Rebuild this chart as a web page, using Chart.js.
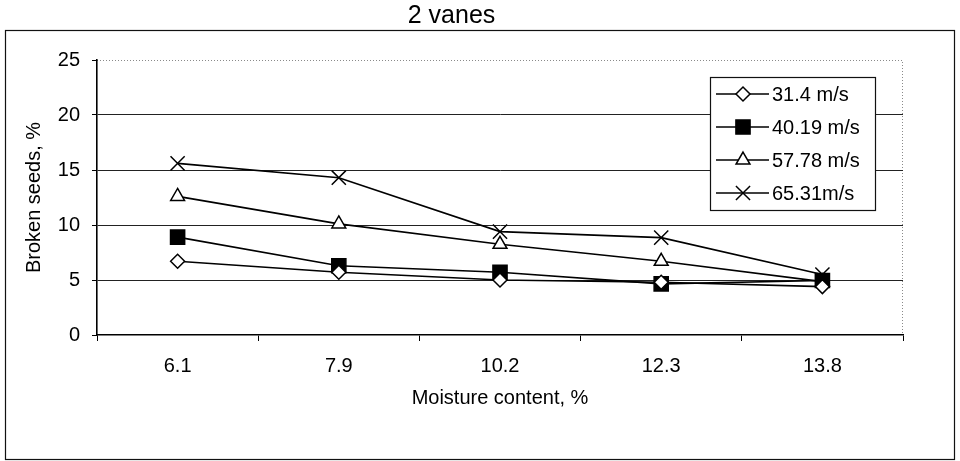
<!DOCTYPE html>
<html>
<head>
<meta charset="utf-8">
<title>2 vanes</title>
<script src="https://cdn.jsdelivr.net/npm/chart.js@4.4.1/dist/chart.umd.min.js"></script>
<style>
    html, body { margin: 0; padding: 0; background: #fff; }
    canvas { display: block; }
</style>
</head>
<body>
<canvas id="brokenChart" width="960" height="461"></canvas>
<script>
// data
const moisture = ['6.1', '7.9', '10.2', '12.3', '13.8'];
const speed31_4 = [6.7, 5.7, 5.0, 4.8, 4.4];
const speed40_19 = [8.9, 6.3, 5.7, 4.65, 4.95];
const speed57_78 = [12.6, 10.1, 8.25, 6.7, 4.85];
const speed65_31 = [15.6, 14.3, 9.4, 8.85, 5.5];
const yTicks = [0, 5, 10, 15, 20, 25];

const FONT = '"Liberation Sans", Arial, Helvetica, sans-serif';

// frame around the whole chart + dotted plot border (top / right)
const framePlugin = {
    id: 'frame',
    beforeDraw(chart) {
        const ctx = chart.ctx;
        const a = chart.chartArea;
        ctx.save();
        ctx.strokeStyle = '#111';
        ctx.lineWidth = 1.2;
        ctx.strokeRect(5.5, 30.5, 949, 429);
        ctx.strokeStyle = '#8a8a8a';
        ctx.lineWidth = 1;
        ctx.setLineDash([1, 2]);
        ctx.beginPath();
        ctx.moveTo(a.left, a.top + 0.5);
        ctx.lineTo(a.right - 0.5, a.top + 0.5);
        ctx.lineTo(a.right - 0.5, a.bottom);
        ctx.stroke();
        ctx.restore();
    }
};

// boxed legend sitting inside the plot, as in the original
const boxLegendPlugin = {
    id: 'boxLegend',
    afterDraw(chart) {
        const ctx = chart.ctx;
        const box = { left: 710, top: 77, right: 875, bottom: 210 };
        const rowY = [94, 127, 160, 193];
        ctx.save();
        ctx.fillStyle = '#fff';
        ctx.fillRect(box.left, box.top, box.right - box.left, box.bottom - box.top);
        ctx.strokeStyle = '#111';
        ctx.lineWidth = 1.2;
        ctx.strokeRect(box.left + 0.5, box.top + 0.5, box.right - box.left, box.bottom - box.top);

        chart.data.datasets.forEach((ds, i) => {
            const y = rowY[i];
            ctx.strokeStyle = '#000';
            ctx.lineWidth = 1.6;
            ctx.setLineDash([]);
            ctx.beginPath();
            ctx.moveTo(716, y);
            ctx.lineTo(769, y);
            ctx.stroke();

            ctx.fillStyle = ds.pointBackgroundColor;
            ctx.strokeStyle = '#000';
            ctx.lineWidth = ds.pointBorderWidth;
            Chart.helpers.drawPoint(ctx, {
                pointStyle: ds.pointStyle,
                radius: ds.pointRadius,
                rotation: 0,
                borderWidth: ds.pointBorderWidth
            }, 743, y);

            ctx.fillStyle = '#000';
            ctx.font = '20px ' + FONT;
            ctx.textAlign = 'left';
            ctx.textBaseline = 'middle';
            ctx.fillText(ds.label, 772, y + 1);
        });
        ctx.restore();
    }
};

function makeSeries(label, values, style, fill, radius) {
    return {
        label: label,
        data: values,
        borderColor: '#000',
        borderWidth: 1.6,
        pointStyle: style,
        pointRadius: radius,
        pointHoverRadius: radius,
        pointBackgroundColor: fill,
        pointBorderColor: '#000',
        pointBorderWidth: 1.5,
        tension: 0,
        fill: false
    };
}

const ctx = document.getElementById('brokenChart').getContext('2d');
Chart.defaults.font.family = FONT;
Chart.defaults.color = '#000';

new Chart(ctx, {
    type: 'line',
    data: {
        labels: moisture,
        datasets: [
            makeSeries('31.4 m/s', speed31_4, 'rectRot', '#fff', 7),
            makeSeries('40.19 m/s', speed40_19, 'rect', '#000', 10),
            makeSeries('57.78 m/s', speed57_78, 'triangle', '#fff', 8),
            makeSeries('65.31m/s', speed65_31, 'crossRot', '#000', 10)
        ]
    },
    options: {
        responsive: false,
        animation: false,
        events: [],
        layout: {
            padding: { left: 0, right: 57, top: 0, bottom: 0 }
        },
        plugins: {
            legend: { display: false },
            tooltip: { enabled: false },
            title: {
                display: true,
                text: '2 vanes',
                color: '#000',
                font: { size: 25, weight: 'normal' },
                padding: { top: 1, bottom: 29 }
            }
        },
        scales: {
            x: {
                type: 'category',
                offset: true,
                grid: {
                    display: true,
                    offset: true,
                    drawOnChartArea: false,
                    drawTicks: true,
                    tickLength: 6,
                    color: '#000'
                },
                border: { display: true, color: '#000', width: 1.6 },
                ticks: {
                    padding: 13,
                    font: { size: 20 },
                    maxRotation: 0
                },
                title: {
                    display: true,
                    text: 'Moisture content, %',
                    font: { size: 20 },
                    padding: { top: 0, bottom: 51 }
                },
                afterFit(scale) { scale.height = 126; }
            },
            y: {
                min: 0,
                max: 25,
                afterBuildTicks(scale) {
                    scale.ticks = yTicks.map(v => ({ value: v }));
                },
                grid: {
                    color: c => (c.tick && (c.tick.value === 25 || c.tick.value === 0)) ? 'rgba(0,0,0,0)' : '#222',
                    tickColor: '#000',
                    lineWidth: 1,
                    drawTicks: true,
                    tickLength: 5
                },
                border: { display: true, color: '#000', width: 1.6 },
                ticks: {
                    padding: 12,
                    font: { size: 20 }
                },
                title: {
                    display: true,
                    text: 'Broken seeds, %',
                    font: { size: 20 },
                    padding: { top: 22, bottom: 0 }
                },
                afterFit(scale) { scale.width = 97; }
            }
        }
    },
    plugins: [framePlugin, boxLegendPlugin]
});
</script>
</body>
</html>
